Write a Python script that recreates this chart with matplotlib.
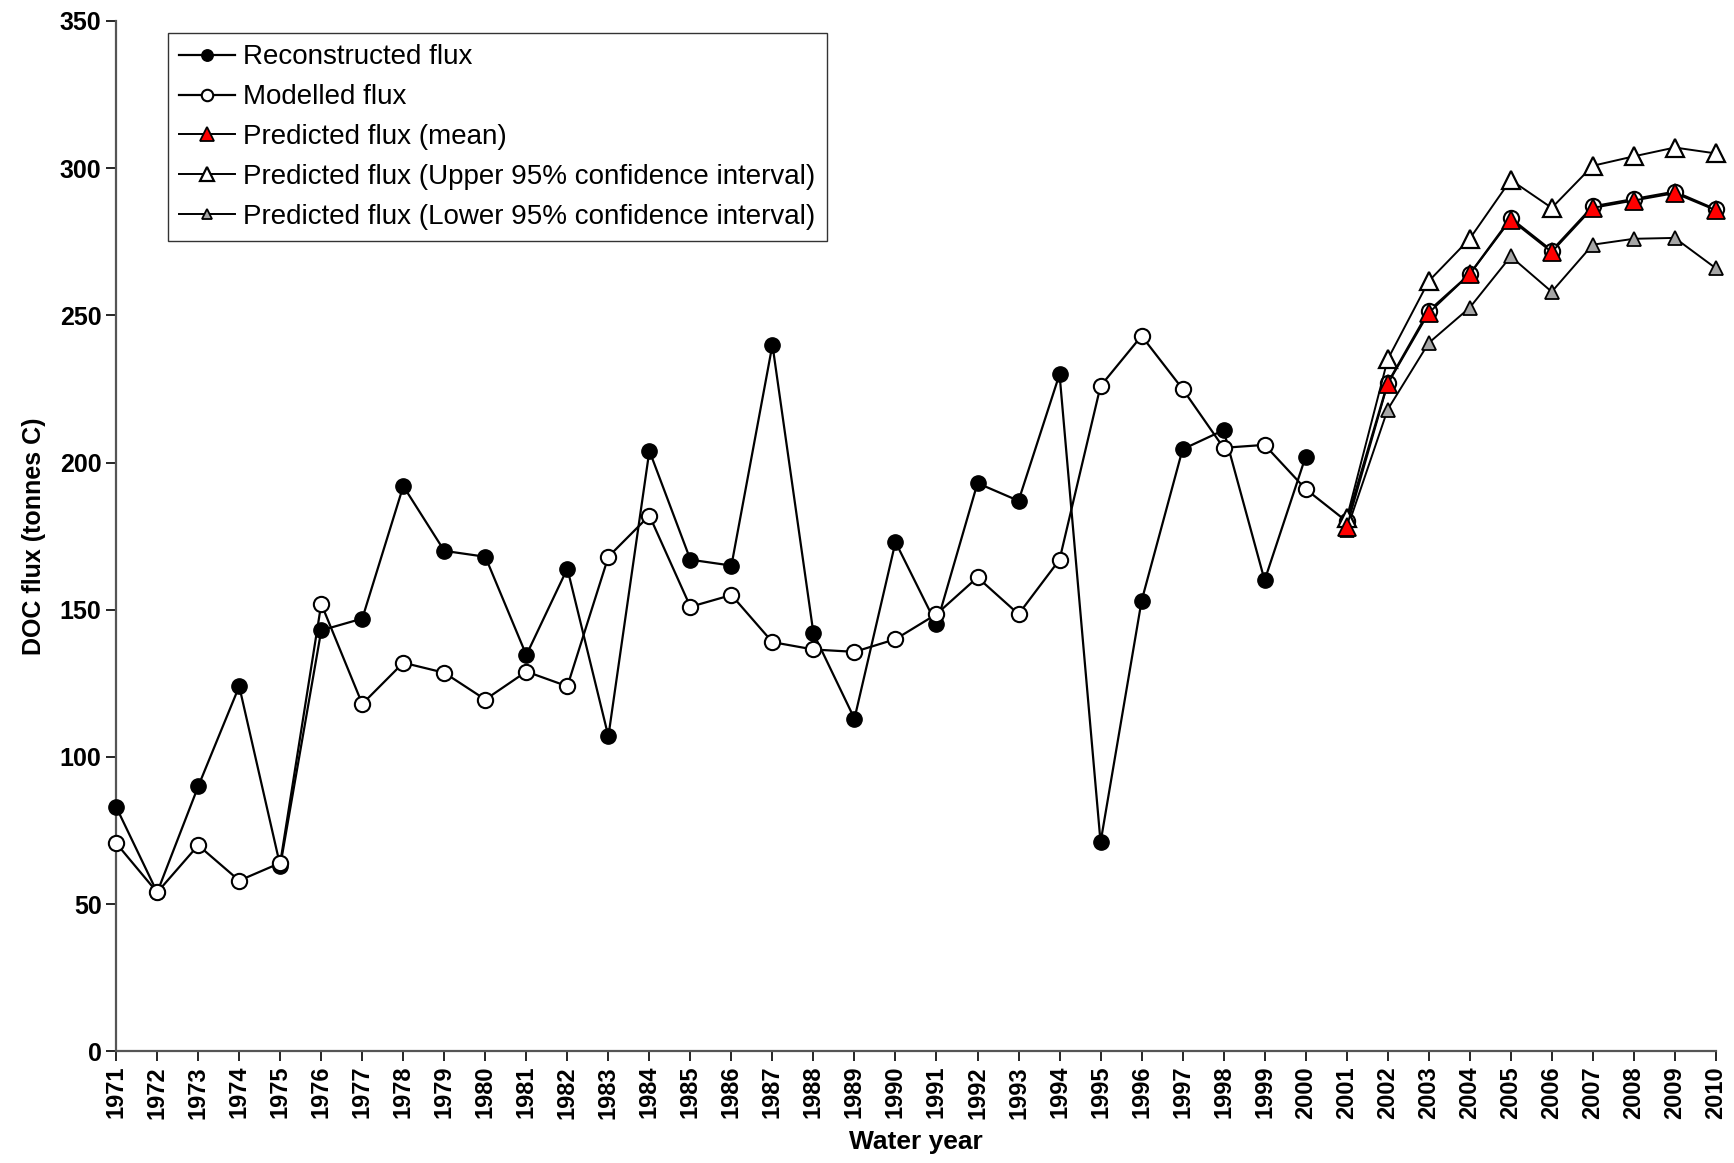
import numpy as np
import matplotlib
matplotlib.use("Agg")
import matplotlib.pyplot as plt

plt.rcParams['font.family'] = ['Liberation Sans', 'DejaVu Sans']

# water years
years = np.arange(1971, 2011)
rec_years = np.arange(1971, 2001)
pred_years = np.arange(2001, 2011)

# reconstructed flux 1971-2000
reconstructed = [83, 54, 90, 124, 63, 143, 147, 192, 170, 168,
                 134.6, 164, 107, 204, 167, 165, 240, 142, 113, 173,
                 145, 193, 187, 230, 71, 153, 204.5, 211, 160, 202]

# modelled flux 1971-2010
modelled = [70.7, 54, 70, 58, 64, 152, 118, 132, 128.6, 119.5,
            129, 124, 168, 182, 151, 155, 139, 136.5, 135.7, 140,
            148.5, 161, 148.5, 167, 226, 243, 225, 205, 206, 191,
            180, 227, 251.5, 264, 283, 272, 287, 289.5, 292, 286]

# predicted flux 2001-2010
pred_mean = [178, 226.7, 250.8, 264, 282.5, 271.5, 286.5, 289, 291.5, 285.7]
pred_upper = [181, 235, 261.6, 276, 296, 286.5, 300.8, 304, 307, 305]
pred_lower = [177, 218, 240.6, 252.6, 270, 258, 274, 276, 276.3, 266]

fig = plt.figure(figsize=(17.34, 11.63), dpi=100)
ax = fig.add_axes([0.067, 0.096, 0.9225, 0.886])

ax.plot(rec_years, reconstructed, '-o', color='black', lw=1.6,
        mfc='black', mec='black', ms=11, clip_on=False, zorder=3,
        label='Reconstructed flux')
ax.plot(years, modelled, '-o', color='black', lw=1.6,
        mfc='white', mec='black', mew=1.5, ms=11, clip_on=False, zorder=4,
        label='Modelled flux')
ax.plot(pred_years, pred_lower, '-^', color='black', lw=1.4,
        mfc='#a6a6a6', mec='black', mew=1.3, ms=10, clip_on=False, zorder=5,
        label='Predicted flux (Lower 95% confidence interval)')
ax.plot(pred_years, pred_upper, '-^', color='black', lw=1.4,
        mfc='white', mec='black', mew=1.6, ms=13, clip_on=False, zorder=5,
        label='Predicted flux (Upper 95% confidence interval)')
ax.plot(pred_years, pred_mean, '-^', color='black', lw=1.4,
        mfc='red', mec='black', mew=1.3, ms=13, clip_on=False, zorder=6,
        label='Predicted flux (mean)')

ax.set_xlim(1971, 2010)
ax.set_ylim(0, 350)
ax.set_xticks(years)
ax.set_xticklabels([str(y) for y in years], rotation=90,
                   fontsize=17, fontweight='bold')
ax.set_yticks(np.arange(0, 351, 50))
ax.set_yticklabels([str(v) for v in range(0, 351, 50)],
                   fontsize=18, fontweight='bold')
ax.tick_params(direction='out', length=7, width=1.2, color='black')

for s in ['top', 'right']:
    ax.spines[s].set_visible(False)
for s in ['left', 'bottom']:
    ax.spines[s].set_color('#555555')
    ax.spines[s].set_linewidth(1.6)

ax.set_xlabel('Water year', fontsize=19, fontweight='bold', labelpad=8)
ax.set_ylabel('DOC flux (tonnes C)', fontsize=18, fontweight='bold', labelpad=10)

# legend in the original order
handles, labels = ax.get_legend_handles_labels()
order = [0, 1, 4, 3, 2]
leg = ax.legend([handles[i] for i in order], [labels[i] for i in order],
                loc='upper left', bbox_to_anchor=(0.0325, 0.988),
                borderaxespad=0, fontsize=20, frameon=True, fancybox=False,
                edgecolor='black', handlelength=2.0, handletextpad=0.3,
                labelspacing=0.5, borderpad=0.4, markerscale=0.75)
leg.get_frame().set_linewidth(1.0)

fig.savefig('out.png', dpi=100, facecolor='white')
